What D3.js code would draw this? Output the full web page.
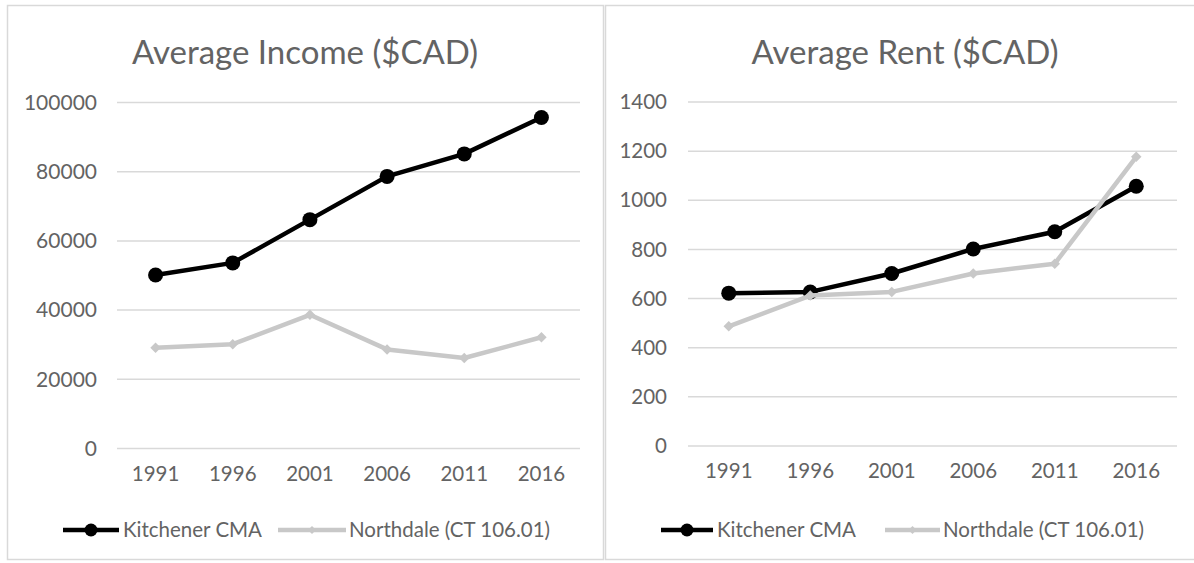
<!DOCTYPE html>
<html>
<head>
<meta charset="utf-8">
<script src="https://cdn.jsdelivr.net/npm/d3@7"></script>
<style>
  html, body { margin: 0; padding: 0; background: #ffffff; }
  svg { display: block; }
  text { font-family: Lato, "Open Sans", sans-serif; fill: #636363; }
</style>
</head>
<body>
<script>
// Census years shared by both panels
const years = ["1991", "1996", "2001", "2006", "2011", "2016"];

// Average household income ($CAD)
const incomeKitchener = [50000, 53500, 66000, 78500, 85000, 95500];
const incomeNorthdale = [29000, 30000, 38500, 28500, 26000, 32000];
const incomeTicks = [0, 20000, 40000, 60000, 80000, 100000];

// Average monthly rent ($CAD)
const rentKitchener = [620, 625, 700, 800, 870, 1055];
const rentNorthdale = [485, 610, 625, 700, 740, 1175];
const rentTicks = [0, 200, 400, 600, 800, 1000, 1200, 1400];

const seriesNames = ["Kitchener CMA", "Northdale (CT 106.01)"];

const W = 1194, H = 563;
const BLACK = "#000000", GREY = "#c8c8c8", GRID = "#d9d9d9", TEXT = "#636363";

const svg = d3.select("body").append("svg").attr("width", W).attr("height", H);

// chart frames
svg.append("rect").attr("x", 7.5).attr("y", 5.5).attr("width", 596).attr("height", 554)
  .attr("fill", "#fff").attr("stroke", GRID).attr("stroke-width", 1.5);
svg.append("rect").attr("x", 605.5).attr("y", 5.5).attr("width", 600).attr("height", 554)
  .attr("fill", "#fff").attr("stroke", GRID).attr("stroke-width", 1.5);

function panel(cfg) {
  const g = svg.append("g");
  const x = d3.scaleBand().domain(years).range(cfg.xRange);
  const y = d3.scaleLinear().domain([0, cfg.max]).range(cfg.yRange);
  const cx = d => x(d) + x.bandwidth() / 2;

  // title
  g.append("text").attr("x", cfg.titleX).attr("y", 64)
    .attr("text-anchor", "middle").style("font-size", "33px")
    .text(cfg.title);

  // horizontal gridlines (the zero line doubles as the category axis)
  const yAxis = d3.axisLeft(y).tickValues(cfg.ticks).tickSize(-(cfg.xRange[1] - cfg.xRange[0]))
    .tickPadding(20).tickFormat(d3.format("d"));
  const ya = g.append("g").attr("transform", `translate(${cfg.xRange[0]},0)`).call(yAxis);
  ya.select(".domain").remove();
  ya.selectAll(".tick line").attr("stroke", GRID).attr("stroke-width", 1.5);
  ya.selectAll(".tick text").style("font-size", cfg.tickFont).attr("fill", TEXT)
    .attr("x", cfg.labelRight - cfg.xRange[0]).attr("dy", "0.35em");

  const xAxis = d3.axisBottom(x).tickSize(0).tickPadding(18);
  const xa = g.append("g").attr("transform", `translate(0,${cfg.yRange[0]})`).call(xAxis);
  xa.select(".domain").remove();
  xa.selectAll(".tick text").style("font-size", "20.5px").attr("fill", TEXT);

  const line = d3.line().x((d, i) => cx(years[i])).y(d => y(d));

  // Kitchener CMA: thick black line with round markers
  g.append("path").datum(cfg.a).attr("d", line).attr("fill", "none")
    .attr("stroke", BLACK).attr("stroke-width", 4.5).attr("stroke-linejoin", "round");
  g.selectAll("circle.k").data(cfg.a).join("circle").attr("class", "k")
    .attr("cx", (d, i) => cx(years[i])).attr("cy", d => y(d)).attr("r", 7.5).attr("fill", BLACK);

  // Northdale: light grey line with small diamond markers
  g.append("path").datum(cfg.b).attr("d", line).attr("fill", "none")
    .attr("stroke", GREY).attr("stroke-width", 4.5).attr("stroke-linejoin", "round");
  const diamond = d3.symbol().type(d3.symbolDiamond2).size(70);
  g.selectAll("path.n").data(cfg.b).join("path").attr("class", "n")
    .attr("d", diamond).attr("fill", GREY)
    .attr("transform", (d, i) => `translate(${cx(years[i])},${y(d)})`);

  // legend
  const ly = 530;
  const L = cfg.legend;
  g.append("line").attr("x1", L[0]).attr("x2", L[1]).attr("y1", ly).attr("y2", ly)
    .attr("stroke", BLACK).attr("stroke-width", 4.5);
  g.append("circle").attr("cx", (L[0] + L[1]) / 2).attr("cy", ly).attr("r", 6.5).attr("fill", BLACK);
  g.append("text").attr("x", L[1] + 4).attr("y", ly).attr("dy", "0.35em")
    .style("font-size", "20.5px").text(seriesNames[0]);
  g.append("line").attr("x1", L[2]).attr("x2", L[3]).attr("y1", ly).attr("y2", ly)
    .attr("stroke", GREY).attr("stroke-width", 4.5);
  g.append("path").attr("d", d3.symbol().type(d3.symbolDiamond2).size(40))
    .attr("fill", GREY).attr("transform", `translate(${(L[2] + L[3]) / 2},${ly})`);
  g.append("text").attr("x", L[3] + 3).attr("y", ly).attr("dy", "0.35em")
    .style("font-size", "20.5px").text(seriesNames[1]);
}

panel({
  title: "Average Income ($CAD)", titleX: 305,
  xRange: [117, 580], yRange: [448, 102], max: 100000, ticks: incomeTicks, labelRight: 97,
  tickFont: "21px",
  a: incomeKitchener, b: incomeNorthdale,
  legend: [63, 119, 278, 346]
});

panel({
  title: "Average Rent ($CAD)", titleX: 905,
  xRange: [688, 1177], yRange: [445.5, 101.5], max: 1400, ticks: rentTicks, labelRight: 667,
  tickFont: "20.5px",
  a: rentKitchener, b: rentNorthdale,
  legend: [661, 713, 885, 940]
});
</script>
</body>
</html>
